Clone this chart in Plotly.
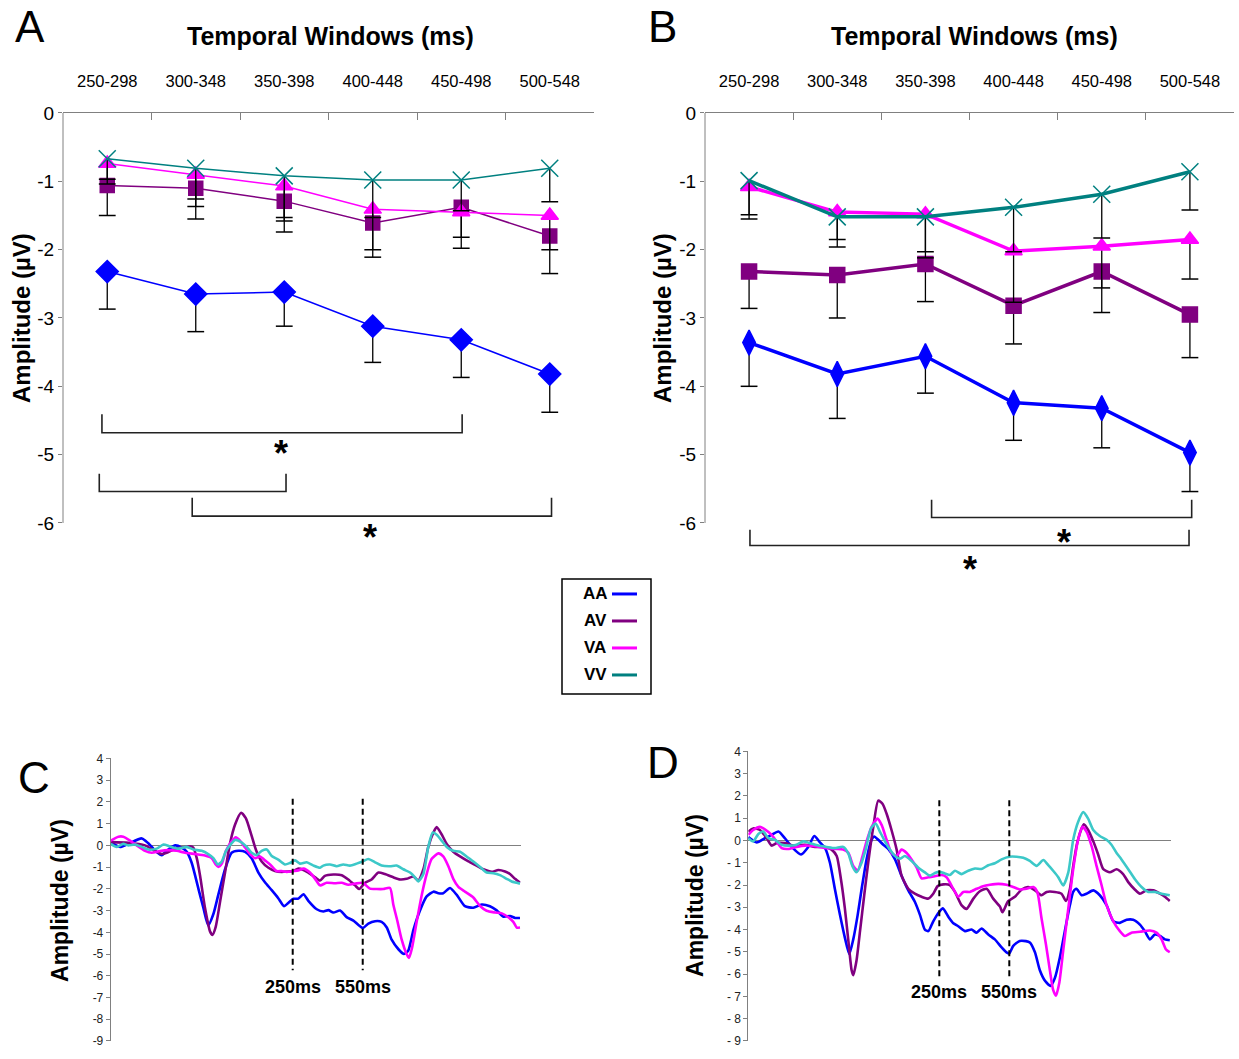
import plotly.graph_objects as go

W, H = 1239, 1059
FONT = "Liberation Sans, Arial, sans-serif"

# ---------------- data ----------------
windows = ["250-298", "300-348", "350-398", "400-448", "450-498", "500-548"]
conditions = ["AA", "AV", "VA", "VV"]
line_colors = ["#0000FF", "#800080", "#FF00FF", "#008080"]
wave_colors = ["#0000FF", "#800080", "#FF00FF", "#3CC8C8"]

# Panel A: mean amplitude per temporal window and its SEM (drawn downward)
a_mean_AA = [-2.32, -2.65, -2.62, -3.12, -3.32, -3.82]
a_mean_AV = [-1.06, -1.10, -1.29, -1.61, -1.38, -1.80]
a_mean_VA = [-0.74, -0.90, -1.07, -1.41, -1.45, -1.50]
a_mean_VV = [-0.67, -0.81, -0.92, -0.98, -0.98, -0.81]
a_sem_AA = [0.55, 0.55, 0.50, 0.53, 0.55, 0.56]
a_sem_AV = [0.44, 0.45, 0.45, 0.50, 0.60, 0.55]
a_sem_VA = [0.30, 0.36, 0.46, 0.59, 0.37, 0.50]
a_sem_VV = [0.30, 0.56, 0.66, 0.55, 0.45, 0.49]

# Panel B
b_mean_AA = [-3.36, -3.82, -3.56, -4.24, -4.32, -4.97]
b_mean_AV = [-2.32, -2.37, -2.21, -2.82, -2.32, -2.95]
b_mean_VA = [-1.08, -1.45, -1.48, -2.02, -1.95, -1.85]
b_mean_VV = [-0.99, -1.52, -1.52, -1.38, -1.19, -0.86]
b_sem_AA = [0.64, 0.65, 0.54, 0.55, 0.58, 0.57]
b_sem_AV = [0.54, 0.63, 0.55, 0.56, 0.60, 0.63]
b_sem_VA = [0.41, 0.40, 0.55, 0.75, 0.61, 0.58]
b_sem_VV = [0.56, 0.44, 0.60, 0.65, 0.64, 0.56]

# significance brackets: (from window index, to window index, top, bottom)
a_brackets = [(-0.06, 4.01, -4.41, -4.68), (-0.09, 2.02, -5.28, -5.54), (0.96, 5.02, -5.63, -5.90)]
a_stars = [(1.96, -4.85), (2.97, -6.08)]
b_brackets = [(2.07, 5.02, -5.66, -5.92), (0.01, 4.99, -6.10, -6.33)]
b_stars = [(3.57, -6.15), (2.51, -6.55)]

# Panel C: grand-average waveforms (time in ms, amplitude in uV)
c_time_AA = [-530, -490, -455, -397, -369, -333, -311, -290, -254, -226, -204, -183, -154, -133, -112, -90, -69, -40, -12, 17, 46, 74, 103, 131, 160, 188, 213, 231, 253, 274, 296, 317, 353, 381, 403, 424, 453, 481, 510, 550, 574, 603, 631, 653, 674, 703, 727, 745, 767, 795, 824, 853, 874, 895, 924, 953, 988, 1024, 1060, 1095, 1124, 1153, 1181, 1203, 1224]
c_amp_AA = [0.15, -0.07, 0.07, 0.32, 0.10, -0.30, -0.45, -0.25, 0.00, -0.10, -0.30, -0.80, -2.00, -2.87, -3.68, -3.16, -2.28, -1.10, -0.34, -0.25, -0.30, -0.59, -1.25, -1.70, -2.06, -2.43, -2.80, -2.65, -2.46, -2.45, -2.25, -2.55, -2.94, -3.04, -2.98, -3.09, -3.00, -3.30, -3.46, -3.80, -3.60, -3.49, -3.52, -3.78, -4.34, -4.78, -5.00, -4.85, -3.90, -3.01, -2.35, -2.13, -2.20, -2.20, -1.96, -2.28, -2.80, -2.87, -2.72, -2.80, -2.99, -3.28, -3.25, -3.34, -3.34]
c_time_AV = [-530, -455, -383, -333, -311, -290, -254, -219, -190, -176, -161, -147, -126, -104, -94, -80, -61, -40, -19, 3, 29, 49, 72, 93, 117, 146, 174, 203, 231, 253, 274, 296, 317, 346, 367, 388, 424, 460, 488, 517, 535, 560, 588, 617, 645, 681, 710, 738, 767, 788, 810, 831, 853, 867, 888, 910, 938, 967, 1003, 1038, 1067, 1103, 1131, 1160, 1181, 1203, 1224]
c_amp_AV = [0.15, 0.12, 0.00, -0.30, -0.40, -0.34, -0.15, -0.10, -0.04, -0.10, -0.60, -1.40, -2.87, -3.97, -4.12, -3.75, -2.57, -1.25, 0.07, 0.96, 1.50, 1.25, 0.51, -0.22, -0.74, -1.03, -1.18, -1.22, -1.20, -1.18, -1.07, -1.13, -1.25, -1.47, -1.62, -1.40, -1.34, -1.37, -1.57, -1.84, -2.01, -1.72, -1.57, -1.25, -1.32, -1.47, -1.57, -1.54, -1.43, -1.62, -1.10, -0.07, 0.59, 0.84, 0.51, 0.07, -0.29, -0.51, -0.74, -0.93, -1.10, -1.22, -1.13, -1.20, -1.32, -1.54, -1.72]
c_time_VA = [-530, -497, -476, -447, -419, -383, -354, -319, -283, -247, -211, -169, -126, -97, -80, -69, -54, -36, -14, 6, 24, 46, 67, 89, 110, 131, 153, 181, 203, 224, 253, 274, 296, 324, 346, 367, 395, 431, 460, 488, 517, 550, 581, 610, 638, 667, 681, 698, 717, 738, 748, 760, 781, 803, 824, 845, 874, 895, 917, 938, 960, 988, 1024, 1053, 1081, 1117, 1146, 1174, 1196, 1210, 1224]
c_amp_VA = [0.22, 0.40, 0.40, 0.22, 0.00, -0.25, -0.34, -0.26, -0.22, -0.25, -0.34, -0.40, -0.47, -0.59, -0.88, -0.99, -0.84, -0.25, 0.15, 0.37, 0.22, -0.10, -0.40, -0.59, -0.51, -0.69, -0.88, -1.18, -1.18, -1.22, -1.18, -1.15, -1.07, -1.25, -1.54, -1.84, -1.72, -1.74, -1.72, -1.81, -1.76, -1.72, -1.99, -2.01, -2.01, -1.96, -2.72, -3.46, -4.34, -5.00, -5.18, -4.78, -3.53, -2.28, -1.32, -0.63, -0.37, -0.51, -0.96, -1.54, -1.91, -2.13, -2.40, -2.79, -3.01, -3.09, -3.13, -3.31, -3.53, -3.78, -3.78]
c_time_VV = [-530, -504, -476, -455, -426, -397, -369, -333, -304, -276, -240, -204, -176, -140, -112, -90, -71, -54, -36, -14, 3, 29, 53, 74, 96, 117, 139, 160, 188, 217, 238, 260, 281, 310, 339, 367, 381, 410, 438, 467, 495, 524, 550, 574, 603, 631, 667, 695, 724, 753, 774, 788, 810, 831, 850, 867, 888, 910, 938, 967, 995, 1024, 1053, 1081, 1110, 1138, 1167, 1188, 1210, 1224]
c_amp_VV = [0.07, -0.07, 0.07, 0.00, 0.04, -0.07, -0.19, -0.15, 0.04, -0.05, -0.15, -0.07, -0.19, -0.25, -0.40, -0.59, -0.88, -0.74, -0.25, 0.07, 0.25, 0.15, -0.07, -0.34, -0.44, -0.25, -0.19, -0.49, -0.66, -0.88, -0.81, -0.69, -0.84, -0.78, -0.93, -1.03, -0.93, -0.88, -0.96, -0.88, -0.93, -0.84, -0.74, -0.63, -0.78, -0.93, -0.96, -0.93, -1.10, -1.25, -1.47, -1.66, -1.32, -0.07, 0.59, 0.49, 0.22, -0.07, -0.25, -0.29, -0.51, -0.74, -0.99, -1.25, -1.28, -1.37, -1.54, -1.66, -1.72, -1.76]

# Panel D
d_time_AA = [-569, -533, -498, -469, -440, -412, -383, -343, -312, -286, -262, -240, -219, -198, -176, -155, -136, -119, -100, -83, -62, -43, -29, -12, 10, 31, 60, 88, 117, 145, 167, 188, 203, 224, 250, 265, 290, 310, 331, 360, 388, 410, 431, 460, 488, 517, 538, 550, 567, 595, 621, 638, 660, 681, 703, 727, 745, 767, 788, 810, 824, 838, 860, 881, 910, 938, 967, 996, 1024, 1053, 1081, 1110, 1131, 1153, 1174, 1196, 1217, 1238]
d_amp_AA = [0.15, -0.09, 0.10, 0.25, 0.40, 0.10, -0.29, -0.63, -0.29, 0.20, -0.09, -0.34, -1.00, -2.17, -3.34, -4.36, -5.10, -4.44, -3.34, -2.17, -0.85, -0.04, 0.18, 0.03, -0.19, -0.38, -0.85, -1.58, -2.24, -2.75, -3.34, -4.00, -4.07, -3.63, -3.20, -3.05, -3.45, -3.72, -3.85, -4.07, -4.00, -4.14, -3.95, -4.22, -4.44, -4.80, -5.02, -5.07, -4.73, -4.51, -4.52, -4.58, -5.02, -5.83, -6.30, -6.53, -6.19, -5.24, -4.07, -2.90, -2.31, -2.17, -2.46, -2.39, -2.24, -2.46, -2.90, -3.63, -3.70, -3.56, -3.56, -3.78, -4.07, -4.44, -4.22, -4.29, -4.44, -4.48]
d_time_AV = [-569, -548, -519, -490, -469, -448, -412, -376, -326, -283, -240, -212, -190, -172, -155, -140, -126, -119, -105, -90, -72, -55, -33, -12, 7, 24, 45, 67, 88, 117, 145, 174, 203, 224, 243, 267, 295, 317, 345, 367, 396, 424, 453, 481, 510, 521, 545, 574, 603, 631, 660, 688, 710, 745, 774, 793, 810, 824, 841, 860, 870, 888, 910, 931, 953, 981, 1010, 1038, 1060, 1088, 1110, 1138, 1167, 1196, 1217, 1238]
d_amp_AV = [0.40, 0.54, 0.47, 0.10, -0.23, -0.12, -0.12, -0.23, -0.19, -0.29, -0.29, -0.41, -0.70, -1.73, -3.05, -4.51, -5.83, -6.05, -5.39, -4.07, -2.46, -1.00, 0.61, 1.79, 1.64, 1.20, 0.47, -0.41, -1.58, -2.17, -2.39, -2.53, -2.61, -2.39, -2.05, -1.97, -2.00, -2.31, -2.90, -3.07, -2.61, -2.28, -2.17, -2.61, -2.97, -3.22, -2.72, -2.53, -2.20, -2.09, -2.24, -2.46, -2.31, -2.31, -2.39, -2.72, -2.17, -1.14, -0.12, 0.54, 0.73, 0.47, -0.04, -0.63, -1.29, -1.43, -1.29, -1.51, -1.87, -2.20, -2.39, -2.24, -2.24, -2.39, -2.53, -2.72]
d_time_VA = [-569, -548, -519, -498, -469, -448, -426, -398, -362, -326, -283, -240, -198, -162, -140, -119, -100, -83, -62, -40, -15, 3, 24, 45, 67, 88, 110, 131, 153, 174, 203, 231, 260, 281, 310, 331, 353, 381, 410, 438, 467, 503, 538, 567, 595, 624, 653, 670, 688, 707, 724, 738, 750, 764, 781, 803, 824, 845, 864, 881, 903, 924, 946, 967, 996, 1024, 1046, 1074, 1110, 1153, 1181, 1203, 1221, 1238]
d_amp_VA = [0.25, 0.47, 0.61, 0.50, 0.25, -0.04, -0.34, -0.38, -0.29, -0.23, -0.26, -0.34, -0.38, -0.41, -0.56, -1.14, -1.36, -0.85, -0.04, 0.61, 0.98, 0.69, 0.03, -0.56, -0.70, -0.41, -0.56, -0.85, -1.22, -1.70, -1.65, -1.61, -1.55, -1.65, -2.17, -2.53, -2.31, -2.31, -2.17, -2.05, -1.99, -1.95, -1.99, -2.09, -2.20, -2.17, -2.09, -2.31, -3.48, -4.66, -5.83, -6.71, -6.97, -6.41, -4.95, -3.05, -1.29, 0.03, 0.61, 0.40, -0.26, -1.14, -2.02, -2.90, -3.63, -4.07, -4.29, -4.14, -4.10, -4.04, -4.14, -4.44, -4.88, -5.02]
d_time_VV = [-569, -548, -526, -505, -483, -455, -426, -398, -362, -333, -305, -269, -233, -198, -162, -140, -123, -105, -86, -66, -43, -23, -5, 17, 38, 60, 81, 102, 131, 160, 188, 210, 231, 250, 274, 295, 317, 345, 374, 403, 431, 460, 488, 517, 550, 581, 610, 638, 667, 696, 717, 738, 760, 781, 803, 824, 845, 867, 888, 910, 938, 967, 988, 1010, 1031, 1060, 1088, 1117, 1146, 1174, 1203, 1238]
d_amp_VV = [0.10, -0.04, 0.29, 0.40, 0.10, 0.03, -0.19, -0.23, -0.19, -0.04, -0.12, -0.23, -0.29, -0.34, -0.29, -0.59, -1.14, -1.43, -1.07, -0.41, 0.54, 0.76, 0.40, -0.04, -0.41, -0.70, -0.82, -0.70, -0.92, -1.22, -1.43, -1.58, -1.46, -1.41, -1.48, -1.55, -1.36, -1.51, -1.36, -1.26, -1.28, -1.11, -1.02, -0.85, -0.73, -0.73, -0.78, -0.92, -1.14, -0.88, -1.11, -1.36, -1.65, -2.02, -1.43, 0.03, 0.83, 1.27, 0.98, 0.47, 0.20, 0.03, -0.19, -0.56, -0.85, -1.29, -1.73, -2.09, -2.31, -2.31, -2.39, -2.46]

window_marks = [250, 550]
amp_ticks = list(range(-9, 5))
mean_ticks = [0, -1, -2, -3, -4, -5, -6]

# ---------------- layout helpers (page pixel -> paper) ----------------
PAGE_TOP = 9.0
PAGE_SCALE = 0.984
BOTTOM_LIMIT = 1040.0  # lowest tick-label centre that still fits on the page


def px(x):
    return x / W


def py(y):
    return min(1.0, max(0.0, 1 - (y - PAGE_TOP) / (PAGE_SCALE * H)))


# windows panels: y=0 at 112 px, y=-6 at 522 px, range extended below for brackets
Y_LOW = -6.8
unit_ab = (522 - 112) / 6.0
ab_ydom = [py(112 + (-Y_LOW) * unit_ab), py(112)]
a_xdom = [px(63), px(594)]
b_xdom = [px(705), px(1234)]
# waveform panels: range [-9, 4]
c_xdom = [px(110.7), px(520.7)]
c_ydom = [py(min(1052.6, BOTTOM_LIMIT)), py(757.5)]
c_range = [-530, 1227]
d_xdom = [px(748.3), px(1170.7)]
d_ydom = [py(min(1044.8, BOTTOM_LIMIT)), py(750.4)]
d_range = [-569, 1242]

fig = go.Figure()
shapes = []
annotations = []


def add_window_panel(means, sems, xa, ya, lw, sizes, symbols):
    for name, m, s, col, sym, ms in zip(conditions, means, sems, line_colors, symbols, sizes):
        fig.add_trace(go.Scatter(
            x=windows, y=m, mode="lines+markers", name=name, xaxis=xa, yaxis=ya,
            line=dict(color=col, width=lw),
            marker=dict(symbol=sym, size=ms, color=col, line=dict(color=col, width=1.5)),
            error_y=dict(type="data", symmetric=False, array=[0] * len(m), arrayminus=s,
                         color="black", thickness=1.3, width=0),
            showlegend=False, hoverinfo="skip"))
        lows = [v - e for v, e in zip(m, s)]
        fig.add_trace(go.Scatter(
            x=windows, y=lows, mode="markers", xaxis=xa, yaxis=ya,
            marker=dict(symbol="line-ew", size=12, color="black", line=dict(color="black", width=1.5)),
            showlegend=False, hoverinfo="skip"))


add_window_panel([a_mean_AA, a_mean_AV, a_mean_VA, a_mean_VV],
                 [a_sem_AA, a_sem_AV, a_sem_VA, a_sem_VV], "x", "y", 1.5,
                 [17, 14, 15, 17], ["diamond", "square", "triangle-up", "x-thin"])
add_window_panel([b_mean_AA, b_mean_AV, b_mean_VA, b_mean_VV],
                 [b_sem_AA, b_sem_AV, b_sem_VA, b_sem_VV], "x2", "y2", 3.5,
                 [18, 15, 15, 17], ["diamond-tall", "square", "triangle-up", "x-thin"])


def add_waves(times, amps, xa, ya):
    for name, t, v, col in zip(conditions, times, amps, wave_colors):
        fig.add_trace(go.Scatter(
            x=t, y=v, mode="lines", name=name, xaxis=xa, yaxis=ya,
            line=dict(color=col, width=2.6, shape="spline", smoothing=0.6),
            showlegend=False, hoverinfo="skip"))


add_waves([c_time_AA, c_time_AV, c_time_VA, c_time_VV],
          [c_amp_AA, c_amp_AV, c_amp_VA, c_amp_VV], "x3", "y3")
add_waves([d_time_AA, d_time_AV, d_time_VA, d_time_VV],
          [d_amp_AA, d_amp_AV, d_amp_VA, d_amp_VV], "x4", "y4")

# brackets and asterisks
for brackets, stars, xr, yr in [(a_brackets, a_stars, "x", "y"), (b_brackets, b_stars, "x2", "y2")]:
    for x0, x1, top, bot in brackets:
        shapes.append(dict(type="path", xref=xr, yref=yr,
                           path=f"M {x0},{top} L {x0},{bot} L {x1},{bot} L {x1},{top}",
                           line=dict(color="#222222", width=1.6)))
    for sx, sy in stars:
        annotations.append(dict(x=sx, y=sy, xref=xr, yref=yr, text="<b>*</b>", showarrow=False,
                                font=dict(family=FONT, size=36, color="black"), yshift=-9))
    # y-axis line from 0 to -6
    shapes.append(dict(type="line", xref=xr + " domain", yref=yr, x0=0, x1=0,
                       y0=mean_ticks[0], y1=mean_ticks[-1], line=dict(color="#808080", width=1)))

# vertical window markers on waveform panels
for xr, yr, top, bot, lab_y in [("x3", "y3", 2.15, -5.75, -6.5), ("x4", "y4", 1.8, -6.1, -6.8)]:
    for t in window_marks:
        shapes.append(dict(type="line", xref=xr, yref=yr, x0=t, x1=t, y0=top, y1=bot,
                           line=dict(color="black", width=2, dash="6px,4px")))
        annotations.append(dict(x=t, y=lab_y, xref=xr, yref=yr, text=f"<b>{t}ms</b>", showarrow=False,
                                font=dict(family=FONT, size=18, color="black")))


def paper_text(x, y, text, size, bold=False, angle=0):
    annotations.append(dict(x=px(x), y=py(y), xref="paper", yref="paper",
                            text=f"<b>{text}</b>" if bold else text, showarrow=False,
                            textangle=angle, xanchor="center", yanchor="middle",
                            font=dict(family=FONT, size=size, color="black")))


paper_text(30, 26, "A", 44)
paper_text(662, 26, "B", 44)
paper_text(34, 777, "C", 44)
paper_text(663, 762, "D", 44)
paper_text(330, 35, "Temporal Windows (ms)", 25, bold=True)
paper_text(974, 35, "Temporal Windows (ms)", 25, bold=True)
paper_text(22, 317, "Amplitude (µV)", 24, bold=True, angle=-90)
paper_text(663, 317, "Amplitude (µV)", 24, bold=True, angle=-90)
paper_text(60, 900, "Amplitude (µV)", 23, bold=True, angle=-90)
paper_text(695, 895, "Amplitude (µV)", 23, bold=True, angle=-90)

# legend box
shapes.append(dict(type="rect", xref="paper", yref="paper", x0=px(562), x1=px(651), y0=py(693), y1=py(578),
                   line=dict(color="black", width=1.5), fillcolor="white"))
for i, (name, col) in enumerate(zip(conditions, line_colors)):
    yy = 593 + 27 * i
    paper_text(595, yy, name, 17, bold=True)
    shapes.append(dict(type="line", xref="paper", yref="paper", x0=px(612), x1=px(637), y0=py(yy), y1=py(yy),
                       line=dict(color=col, width=3)))


def window_xaxis(domain, anchor):
    return dict(domain=domain, anchor=anchor, side="top", type="category",
                categoryorder="array", categoryarray=windows, range=[-0.5, 5.5],
                tickson="boundaries", ticks="inside", ticklen=7, tickcolor="#808080", tickwidth=1,
                showline=True, linecolor="#808080", linewidth=1, showgrid=False, zeroline=False,
                tickfont=dict(family=FONT, size=16.5, color="black"), ticklabelstandoff=18,
                fixedrange=True)


def window_yaxis(domain, anchor):
    return dict(domain=domain, anchor=anchor, range=[Y_LOW, 0], tickmode="array",
                tickvals=mean_ticks, ticktext=[str(v) for v in mean_ticks],
                ticks="outside", ticklen=4, tickcolor="#808080", showline=False, zeroline=False,
                showgrid=False, tickfont=dict(family=FONT, size=19, color="black"), fixedrange=True)


def wave_yaxis(domain, anchor, labels):
    return dict(domain=domain, anchor=anchor, range=[-9, 4], tickmode="array",
                tickvals=amp_ticks, ticktext=labels, ticks="outside", ticklen=4, tickcolor="#808080",
                showline=True, linecolor="#808080", linewidth=1, zeroline=True, zerolinecolor="#808080",
                zerolinewidth=1, showgrid=False, tickfont=dict(family=FONT, size=12, color="#222222"),
                ticklabeloverflow="allow", fixedrange=True)


fig.update_layout(
    width=W, height=H, margin=dict(l=0, r=0, t=0, b=0),
    paper_bgcolor="white", plot_bgcolor="white", showlegend=False,
    font=dict(family=FONT, color="black"),
    xaxis=window_xaxis(a_xdom, "y"), yaxis=window_yaxis(ab_ydom, "x"),
    xaxis2=window_xaxis(b_xdom, "y2"), yaxis2=window_yaxis(ab_ydom, "x2"),
    xaxis3=dict(domain=c_xdom, anchor="y3", range=c_range, visible=False, fixedrange=True),
    yaxis3=wave_yaxis(c_ydom, "x3", [str(v) for v in amp_ticks]),
    xaxis4=dict(domain=d_xdom, anchor="y4", range=d_range, visible=False, fixedrange=True),
    yaxis4=wave_yaxis(d_ydom, "x4", [("- " + str(-v)) if v < 0 else str(v) for v in amp_ticks]),
    shapes=shapes, annotations=annotations,
)

fig.write_html("out.html")
